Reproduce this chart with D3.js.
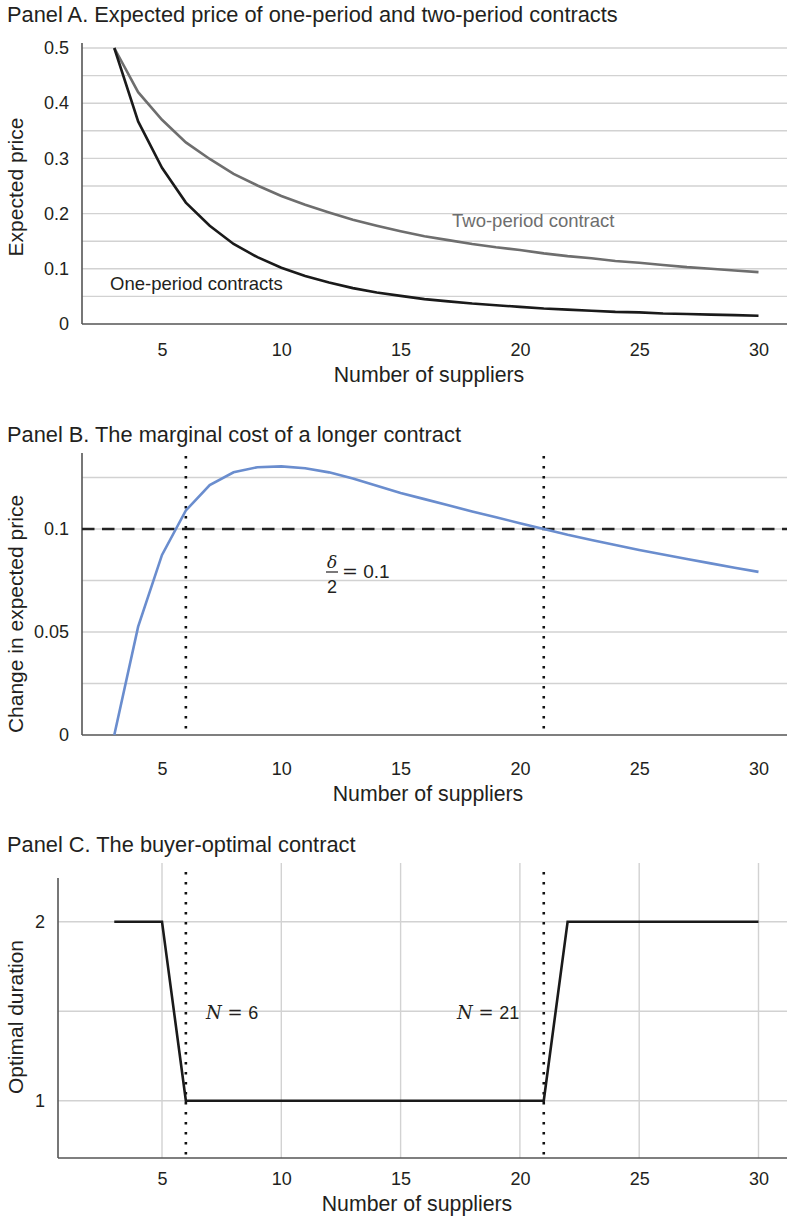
<!DOCTYPE html>
<html>
<head>
<meta charset="utf-8">
<script src="https://cdn.jsdelivr.net/npm/d3@7"></script>
<style>
  body { margin: 0; background: #fff; }
</style>
</head>
<body>
<script>

// number of suppliers (N)
const suppliers = [3, 4, 5, 6, 7, 8, 9, 10, 11, 12, 13, 14, 15, 16, 17, 18, 19, 20,
    21, 22, 23, 24, 25, 26, 27, 28, 29, 30]

// panel A
const onePeriod = [0.5, 0.367, 0.283, 0.22, 0.178, 0.145, 0.121, 0.102, 0.087, 0.075,
    0.065, 0.057, 0.051, 0.045, 0.041, 0.037, 0.034, 0.031, 0.028, 0.026, 0.024,
    0.022, 0.021, 0.019, 0.018, 0.017, 0.016, 0.015]
const twoPeriod = [0.5, 0.42, 0.37, 0.329, 0.299, 0.272, 0.251, 0.232, 0.216, 0.202,
    0.189, 0.178, 0.168, 0.159, 0.152, 0.145, 0.139, 0.134, 0.128, 0.123, 0.119,
    0.114, 0.111, 0.107, 0.103, 0.1, 0.097, 0.094]

// panel B
const priceChange = [0, 0.0526, 0.0874, 0.109, 0.1213, 0.1275, 0.13, 0.1304, 0.1295,
    0.1275, 0.1245, 0.121, 0.1175, 0.1145, 0.1115, 0.1085, 0.1057, 0.1028, 0.1,
    0.0972, 0.0947, 0.0922, 0.0898, 0.0876, 0.0854, 0.0833, 0.0812, 0.0792]
const halfDelta = 0.1

// panel C
const optimalDuration = [2, 2, 2, 1, 1, 1, 1, 1, 1, 1, 1, 1, 1, 1, 1, 1, 1, 1, 1,
    2, 2, 2, 2, 2, 2, 2, 2, 2]
const cutoffs = [6, 21]

const xTicks = [5, 10, 15, 20, 25, 30]
const aTicks = [0, 0.1, 0.2, 0.3, 0.4, 0.5]
const aGrid = [0.05, 0.1, 0.15, 0.2, 0.25, 0.3, 0.35, 0.4, 0.45, 0.5]
const bTicks = [0, 0.05, 0.1]
const bGrid = [0.025, 0.05, 0.075, 0.1, 0.125]
const cTicks = [1, 2]
const cGrid = [1, 1.5, 2]

const W = 787, H = 1217
const txt = '#231f20'
const gridCol = '#d2d2d2'
const axisCol = '#555'

const svg = d3.select('body').append('svg')
    .attr('width', W)
    .attr('height', H)
    .style('font-family', "'Liberation Sans', Arial, sans-serif")

const x = d3.scaleLinear().domain([5, 30]).range([162, 758.5])

const rows = suppliers.map((n, i) => ({
    n: n, one: onePeriod[i], two: twoPeriod[i], diff: priceChange[i], dur: optimalDuration[i]
}))

function title(y, s) {
    svg.append('text').attr('x', 7).attr('y', y)
        .attr('font-size', '21.8px').attr('fill', txt).text(s)
}

function hGrid(vals, y, left) {
    svg.append('g').selectAll('line').data(vals).enter().append('line')
        .attr('x1', left).attr('x2', W)
        .attr('y1', d => y(d)).attr('y2', d => y(d))
        .attr('stroke', gridCol).attr('stroke-width', 1.4)
}

function axes(y, ticks, left, top, bottom, pad, titleX, titleY, yTitle, yTitleMid) {
    // y axis labels
    const ya = svg.append('g').attr('transform', `translate(${left},0)`)
        .call(d3.axisLeft(y).tickValues(ticks).tickSize(0).tickPadding(13).tickFormat(d => d))
    ya.select('.domain').remove()
    ya.selectAll('text').attr('font-size', '18px').attr('fill', txt).attr('font-family', null)

    // x axis labels
    const xa = svg.append('g').attr('transform', `translate(0,${bottom})`)
        .call(d3.axisBottom(x).tickValues(xTicks).tickSize(0).tickPadding(pad))
    xa.select('.domain').remove()
    xa.selectAll('text').attr('font-size', '18px').attr('fill', txt).attr('font-family', null)

    svg.append('line').attr('x1', left).attr('x2', left).attr('y1', top).attr('y2', bottom)
        .attr('stroke', axisCol).attr('stroke-width', 1.6)
    svg.append('line').attr('x1', left).attr('x2', W).attr('y1', bottom).attr('y2', bottom)
        .attr('stroke', axisCol).attr('stroke-width', 1.6)

    svg.append('text').attr('x', titleX).attr('y', titleY)
        .attr('text-anchor', 'middle').attr('font-size', '21.3px').attr('fill', txt)
        .text('Number of suppliers')
    svg.append('text')
        .attr('transform', `translate(23,${yTitleMid}) rotate(-90)`)
        .attr('text-anchor', 'middle').attr('font-size', '21px').attr('fill', txt)
        .text(yTitle)
}

function dotted(xv, top, bottom) {
    svg.append('line').attr('x1', x(xv)).attr('x2', x(xv)).attr('y1', top).attr('y2', bottom)
        .attr('stroke', '#111').attr('stroke-width', 2.6)
        .attr('stroke-dasharray', '2.6,7.4')
}

// ---------- Panel A ----------
title(22, 'Panel A. Expected price of one-period and two-period contracts')
const yA = d3.scaleLinear().domain([0, 0.5]).range([324, 48])
hGrid(aGrid, yA, 82)
axes(yA, aTicks, 82, 43, 324, 19, 429, 382, 'Expected price', 187)

svg.append('path').datum(rows)
    .attr('d', d3.line().x(d => x(d.n)).y(d => yA(d.two)))
    .attr('fill', 'none').attr('stroke', '#6e6e6e').attr('stroke-width', 2.6)
svg.append('path').datum(rows)
    .attr('d', d3.line().x(d => x(d.n)).y(d => yA(d.one)))
    .attr('fill', 'none').attr('stroke', '#1a1a1a').attr('stroke-width', 2.6)

svg.append('text').attr('x', 452).attr('y', 227).attr('font-size', '18.5px')
    .attr('fill', '#6e6e6e').text('Two-period contract')
svg.append('text').attr('x', 110).attr('y', 290).attr('font-size', '18.5px')
    .attr('fill', txt).text('One-period contracts')

// ---------- Panel B ----------
title(442, 'Panel B. The marginal cost of a longer contract')
const yB = d3.scaleLinear().domain([0, 0.1]).range([735, 529])
hGrid(bGrid, yB, 82)
axes(yB, bTicks, 82, 453, 735, 27, 428, 801, 'Change in expected price', 614)

svg.append('line').attr('x1', 82).attr('x2', W)
    .attr('y1', yB(halfDelta)).attr('y2', yB(halfDelta))
    .attr('stroke', '#222').attr('stroke-width', 2.6)
    .attr('stroke-dasharray', '12.5,7.5')

cutoffs.forEach(c => dotted(c, 456, 735))

svg.append('path').datum(rows)
    .attr('d', d3.line().x(d => x(d.n)).y(d => yB(d.diff)))
    .attr('fill', 'none').attr('stroke', '#6a8dce').attr('stroke-width', 2.6)

// delta / 2 = 0.1
const frac = svg.append('g').attr('fill', txt)
frac.append('text').attr('x', 332).attr('y', 568).attr('text-anchor', 'middle')
    .attr('font-family', "'DejaVu Serif', serif").attr('font-style', 'italic')
    .attr('font-size', '17px').text('δ')
frac.append('line').attr('x1', 326).attr('x2', 338).attr('y1', 572).attr('y2', 572)
    .attr('stroke', txt).attr('stroke-width', 1.2)
frac.append('text').attr('x', 332).attr('y', 593).attr('text-anchor', 'middle')
    .attr('font-size', '18px').text('2')
frac.append('text').attr('x', 342).attr('y', 578)
    .attr('font-size', '19px')
    .html('<tspan font-family="\'DejaVu Serif\', serif">=</tspan> 0.1')

// ---------- Panel C ----------
title(852, 'Panel C. The buyer-optimal contract')
const yC = d3.scaleLinear().domain([1, 2]).range([1100.7, 921.7])
hGrid(cGrid, yC, 58)
svg.append('g').selectAll('line').data(xTicks).enter().append('line')
    .attr('x1', d => x(d)).attr('x2', d => x(d))
    .attr('y1', 863).attr('y2', 1158)
    .attr('stroke', gridCol).attr('stroke-width', 1.4)
axes(yC, cTicks, 58, 878, 1158, 14, 417, 1211, 'Optimal duration', 1017)

cutoffs.forEach(c => dotted(c, 872, 1158))

svg.append('path').datum(rows)
    .attr('d', d3.line().x(d => x(d.n)).y(d => yC(d.dur)))
    .attr('fill', 'none').attr('stroke', '#1a1a1a').attr('stroke-width', 2.6)

function nLabel(xp, s) {
    svg.append('text').attr('x', xp).attr('y', 1019).attr('font-size', '18px').attr('fill', txt)
        .html('<tspan font-family="\'DejaVu Serif\', serif" font-style="italic">N</tspan>'
            + '<tspan font-family="\'DejaVu Serif\', serif"> = </tspan>' + s)
}
nLabel(206, '6')
nLabel(457, '21')

</script>
</body>
</html>
